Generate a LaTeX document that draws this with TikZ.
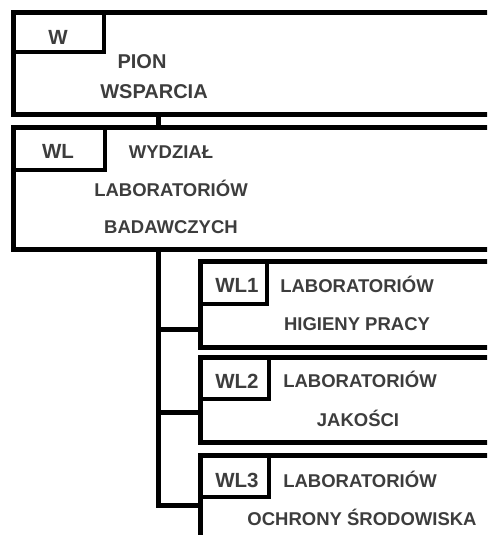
\documentclass[tikz,border=0pt]{standalone}
\usepackage{fontspec}
\setmainfont{Liberation Sans}
\usetikzlibrary{positioning}
\definecolor{labelgray}{HTML}{3d3d3d}
\tikzset{
  unitbox/.style={draw, line width=5pt, outer sep=0pt, inner sep=0pt, minimum width=500pt, anchor=north west},
  codebox/.style={draw, line width=4.5pt, outer sep=0pt, inner sep=0pt, anchor=north west},
  codetext/.style={text=labelgray, font=\fontsize{20.5}{24}\selectfont\bfseries, inner sep=0pt, anchor=base},
  bodytext/.style={text=labelgray, font=\fontsize{18.5}{22}\selectfont\bfseries, inner sep=0pt, anchor=base},
  link/.style={line width=5pt}
}
\begin{document}
\begin{tikzpicture}[x=1pt, y=-1pt]
  \useasboundingbox (0,0) rectangle (487,535);
  \clip (0,0) rectangle (487,535);
  \node[unitbox, minimum height=101.5pt] (w) at (13,12.5) {};
  \node[unitbox, minimum height=122pt, below right=13.5pt and 0pt of w.south west] (wl) {};
  \node[unitbox, minimum height=86pt] (wl1) at (200,261) {};
  \node[unitbox, minimum height=85pt, below right=10pt and 0pt of wl1.south west] (wl2) {};
  \node[unitbox, minimum height=100pt, below right=13pt and 0pt of wl2.south west] (wl3) {};
  \node[codebox, minimum width=91pt, minimum height=39.5pt] (wcode) at (w.north west) {};
  \node[codebox, minimum width=92pt, minimum height=42.5pt] (wlcode) at (wl.north west) {};
  \node[codebox, minimum width=67pt, minimum height=43pt] (wl1code) at (wl1.north west) {};
  \node[codebox, minimum width=69pt, minimum height=42pt] (wl2code) at (wl2.north west) {};
  \node[codebox, minimum width=69pt, minimum height=42pt] (wl3code) at (wl3.north west) {};
  \node[codetext] (wname) at (58,45) {W};
  \node[codetext] (wlname) at (58,158) {WL};
  \node[codetext] (wl1name) at (237,292) {WL1};
  \node[codetext] (wl2name) at (237,388) {WL2};
  \node[codetext] (wl3name) at (237,487) {WL3};
  \node[bodytext, font=\fontsize{20}{24}\selectfont\bfseries] (wtitle1) at (142,68) {PION};
  \node[bodytext, font=\fontsize{20}{24}\selectfont\bfseries] (wtitle2) at (154,98) {WSPARCIA};
  \node[bodytext] (wltitle1) at (171,158) {WYDZIAŁ};
  \node[bodytext] (wltitle2) at (171,196) {LABORATORIÓW};
  \node[bodytext] (wltitle3) at (171,233) {BADAWCZYCH};
  \node[bodytext] (wl1title1) at (357,292) {LABORATORIÓW};
  \node[bodytext] (wl1title2) at (357,330) {HIGIENY PRACY};
  \node[bodytext] (wl2title1) at (360,387) {LABORATORIÓW};
  \node[bodytext] (wl2title2) at (358,426) {JAKOŚCI};
  \node[bodytext] (wl3title1) at (360,487) {LABORATORIÓW};
  \node[bodytext] (wl3title2) at (362,525) {OCHRONY ŚRODOWISKA};
  \coordinate (b1) at (158,329);
  \coordinate (b2) at (158,412);
  \coordinate (b3) at (158,505);
  \draw[link] (w.south -| b1) -- (wl.north -| b1);
  \draw[link] (wl.south -| b1) -- (b3) -- (b3 -| wl3.west);
  \draw[link] (b1) -- (b1 -| wl1.west);
  \draw[link] (b2) -- (b2 -| wl2.west);
\end{tikzpicture}
\end{document}
